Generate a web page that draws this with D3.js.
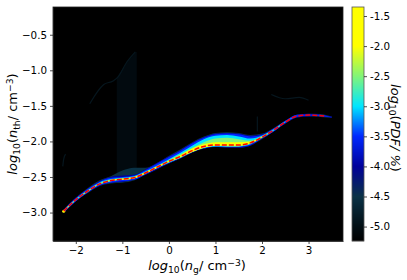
<!DOCTYPE html>
<html>
<head>
<meta charset="utf-8">
<script src="https://cdn.jsdelivr.net/npm/d3@7"></script>
<style>
  body { margin: 0; background: #fff; }
  text { font-family: "DejaVu Sans", sans-serif; fill: #000; }
  .axis text { font-size: 10.3px; }
  .axis path, .axis line { stroke: #222; stroke-width: 0.8; }
  .lab { font-size: 13px; }
</style>
</head>
<body>
<div id="chart"></div>
<script>
// values
var ngBins = [-2.26,-2,-1.75,-1.5,-1.25,-1,-0.75,-0.5,-0.25,0,0.25,0.5,0.75,1,1.25,1.5,1.75,2,2.25,2.5,2.75,3,3.25,3.5]
var ridgeNth = [-2.98,-2.82,-2.70,-2.60,-2.55,-2.53,-2.51,-2.44,-2.36,-2.28,-2.21,-2.13,-2.07,-2.04,-2.04,-2.04,-2.02,-1.94,-1.84,-1.73,-1.645,-1.63,-1.635,-1.66]

var meanNg = [-2.26,-2,-1.75,-1.5,-1.25,-1,-0.75,-0.5,-0.25,0,0.25,0.5,0.75,1,1.25,1.5,1.75,2,2.25,2.5,2.75,3,3.2,3.35]
var meanNth = [-2.98,-2.82,-2.70,-2.60,-2.55,-2.53,-2.51,-2.44,-2.36,-2.28,-2.21,-2.13,-2.07,-2.05,-2.05,-2.05,-2.02,-1.94,-1.84,-1.73,-1.645,-1.63,-1.635,-1.645]

// how far each PDF level reaches above / below the ridge, in 0.01 dex
var levels = [-4.5, -4, -3.5, -3, -2.5, -2]
var reachUp = [
  [2,3,4,5,6,12,14,7,6,8,10,12,14,16,17,16,11,5,3,2,2,2,2,1],
  [2,3,3,4,5,5,4,5,6,7,9,11,13,15,16,15,10,4,2,2,2,2,1,1],
  [2,2,3,3,4,3,3,4,5,6,8,10,12,14,15,14,9,3,2,2,2,1,1,0],
  [1,1,1,2,2,2,2,2,2,3,5,7,10,12,13,11,6,2,1,1,0,0,0,0],
  [1,1,1,1,1,1,1,1,1,2,3,4,6,8,9,7,3,1,0,0,0,0,0,0],
  [1,0,0,0,1,1,1,1,1,1,2,3,3,3,3,3,2,1,0,0,0,0,0,0]
]
var reachDown = [
  [2,2,3,3,4,5,4,3,3,3,3,3,3,4,5,5,4,3,2,2,2,2,2,1],
  [2,2,2,3,3,4,3,3,3,3,3,3,3,4,5,5,4,2,2,2,2,2,1,1],
  [2,2,2,2,3,3,3,2,2,2,2,2,3,3,4,4,3,2,2,1,1,1,1,0],
  [1,1,1,1,1,1,1,1,1,2,2,2,2,3,3,3,2,1,1,0,0,0,0,0],
  [1,0,1,1,1,1,1,1,1,1,2,2,2,2,3,3,1,1,0,0,0,0,0,0],
  [1,0,0,0,0,1,1,1,1,1,1,2,2,2,2,2,1,0,0,0,0,0,0,0]
]

// faint plume above the ridge around ng = -1
var plumeNg = [-1.12,-1.0,-0.9,-0.72,-0.69]
var plumeTop = [-1.10,-0.98,-0.88,-0.75,-0.74]
var plumeBottom = [-2.45,-2.45,-2.45,-2.42,-2.42]

// thin wisps
var wispA = { ng: [-1.7,-1.4,-1.2,-1.1,-0.9,-0.72], nth: [-1.47,-1.2,-1.15,-1.1,-0.88,-0.74] }
var wispB = { ng: [2.2,2.5,2.8,3.0], nth: [-1.34,-1.4,-1.38,-1.42] }
var wispC = { ng: [-2.28,-2.26,-2.22], nth: [-2.35,-2.25,-2.18] }
var wispD = { ng: [1.9,1.9,1.9], nth: [-1.86,-1.75,-1.65] }

var xTicks = [-2,-1,0,1,2,3]
var yTicks = [-3,-2.5,-2,-1.5,-1,-0.5]
var cbTicks = [-5,-4.5,-4,-3.5,-3,-2.5,-2,-1.5]

var cmapStops = [-5.24,-5,-4.5,-4,-3.5,-3,-2.5,-2,-1.35]
var cmapColors = ["#000000","#020e14","#0a3246","#00009b","#0028ff","#00e6ff","#82f578","#ffff00","#ffff00"]

var margin = { top: 7, right: 64, bottom: 39, left: 53 }
var width = 407 - margin.left - margin.right,
  height = 280 - margin.top - margin.bottom

var svg = d3.select("#chart").append("svg")
  .attr("width", 407)
  .attr("height", 280)
  .style("display", "block")

var g = svg.append("g")
  .attr("transform", "translate(" + margin.left + "," + margin.top + ")")

var xPositionScale = d3.scaleLinear().domain([-2.49, 3.74]).range([0, width])
var yPositionScale = d3.scaleLinear().domain([-3.4, -0.11]).range([height, 0])
var colorScale = d3.scaleLinear().domain(cmapStops).range(cmapColors)

g.append("clipPath").attr("id", "plot")
  .append("rect").attr("width", width).attr("height", height)

g.append("rect")
  .attr("width", width)
  .attr("height", height)
  .attr("fill", "#000")

var plot = g.append("g").attr("clip-path", "url(#plot)")

// plume
var plumeArea = d3.area()
  .x(function(d) { return xPositionScale(d[0]) })
  .y0(function(d) { return yPositionScale(d[2]) })
  .y1(function(d) { return yPositionScale(d[1]) })

plot.append("path")
  .attr("d", plumeArea(plumeNg.map(function(d, i) { return [d, plumeTop[i], plumeBottom[i]] })))
  .attr("fill", "#020a0f")

var wispLine = d3.line()
  .x(function(d) { return xPositionScale(d[0]) })
  .y(function(d) { return yPositionScale(d[1]) })
  .curve(d3.curveMonotoneX)

;[wispA, wispB, wispC, wispD].forEach(function(w) {
  plot.append("path")
    .attr("d", wispLine(w.ng.map(function(d, i) { return [d, w.nth[i]] })))
    .attr("fill", "none")
    .attr("stroke", "#06161e")
    .attr("stroke-width", 1.2)
})

// PDF ridge, one filled band per level
var band = d3.area()
  .x(function(d) { return xPositionScale(d.ng) })
  .y0(function(d) { return yPositionScale(d.lo) })
  .y1(function(d) { return yPositionScale(d.hi) })
  .curve(d3.curveMonotoneX)

levels.forEach(function(level, k) {
  var rows = ngBins.map(function(ng, i) {
    return { ng: ng, hi: ridgeNth[i] + reachUp[k][i] / 100, lo: ridgeNth[i] - reachDown[k][i] / 100 }
  })
  plot.append("path")
    .attr("d", band(rows))
    .attr("fill", colorScale(level))
})

// starting point
plot.append("circle")
  .attr("cx", xPositionScale(ngBins[0]))
  .attr("cy", yPositionScale(ridgeNth[0]))
  .attr("r", 1.5)
  .attr("fill", "#ffff00")

// mean line
var meanLine = d3.line()
  .x(function(d) { return xPositionScale(d[0]) })
  .y(function(d) { return yPositionScale(d[1]) })
  .curve(d3.curveMonotoneX)

plot.append("path")
  .attr("d", meanLine(meanNg.map(function(d, i) { return [d, meanNth[i]] })))
  .attr("fill", "none")
  .attr("stroke", "#ff0000")
  .attr("stroke-width", 1.5)
  .attr("stroke-dasharray", "5,2")

// axes
var xAxis = d3.axisBottom(xPositionScale).tickValues(xTicks).tickSize(3).tickSizeOuter(0).tickPadding(3)
  .tickFormat(function(d) { return d3.format("d")(d).replace("-", "\u2212") })
g.append("g")
  .attr("class", "axis x-axis")
  .attr("transform", "translate(0," + height + ")")
  .call(xAxis)

var yAxis = d3.axisLeft(yPositionScale).tickValues(yTicks).tickSize(3).tickSizeOuter(0).tickPadding(3)
  .tickFormat(function(d) { return d3.format(".1f")(d).replace("-", "\u2212") })
g.append("g")
  .attr("class", "axis y-axis")
  .call(yAxis)

g.append("rect")
  .attr("width", width)
  .attr("height", height)
  .attr("fill", "none")
  .attr("stroke", "#222")
  .attr("stroke-width", 0.8)

// colorbar
var cbX = 352, cbW = 12
var cbScale = d3.scaleLinear().domain([-5.24, -1.35]).range([height, 0])
var cb = svg.append("g")
  .attr("transform", "translate(" + cbX + "," + margin.top + ")")

cb.selectAll("rect")
  .data(d3.range(0, height))
  .enter().append("rect")
  .attr("x", 0)
  .attr("y", function(d) { return d })
  .attr("width", cbW)
  .attr("height", 1.2)
  .attr("fill", function(d) { return colorScale(cbScale.invert(d + 0.5)) })

cb.append("rect")
  .attr("width", cbW)
  .attr("height", height)
  .attr("fill", "none")
  .attr("stroke", "#555")
  .attr("stroke-width", 0.8)

var cbAxis = d3.axisRight(cbScale).tickValues(cbTicks).tickSize(3).tickSizeOuter(0).tickPadding(3)
  .tickFormat(function(d) { return d3.format(".1f")(d).replace("\u2212", "-") })
cb.append("g")
  .attr("class", "axis cb-axis")
  .attr("transform", "translate(" + cbW + ",0)")
  .call(cbAxis)
  .select(".domain").remove()

// labels, written out with sub and superscripts
function addLabel(sel, parts) {
  parts.forEach(function(p) {
    var t = sel.append("tspan").text(p.t)
    if (p.i) t.attr("font-style", "italic")
    if (p.s) t.attr("font-size", "9.2px")
    if (p.dy) t.attr("dy", p.dy)
  })
}

addLabel(svg.append("text").attr("class", "lab")
  .attr("x", 197).attr("y", 270).attr("text-anchor", "middle"), [
  { t: "log", i: 1 }, { t: "10", s: 1, dy: 2.5 }, { t: "(", dy: -2.5 }, { t: "n", i: 1 },
  { t: "g", s: 1, dy: 2.5 }, { t: "/ cm", dy: -2.5 }, { t: "\u22123", s: 1, dy: -4.5 }, { t: ")", dy: 4.5 }
])

addLabel(svg.append("text").attr("class", "lab")
  .attr("transform", "translate(17,124) rotate(-90)").attr("text-anchor", "middle"), [
  { t: "log", i: 1 }, { t: "10", s: 1, dy: 2.5 }, { t: "(", dy: -2.5 }, { t: "n", i: 1 },
  { t: "th", s: 1, dy: 2.5 }, { t: "/ cm", dy: -2.5 }, { t: "\u22123", s: 1, dy: -4.5 }, { t: ")", dy: 4.5 }
])

addLabel(svg.append("text").attr("class", "lab")
  .attr("transform", "translate(391,128) rotate(90)").attr("text-anchor", "middle"), [
  { t: "log", i: 1 }, { t: "10", s: 1, dy: 2.5 }, { t: "(", dy: -2.5 }, { t: "PDF", i: 1 },
  { t: "/ %", i: 1 }, { t: ")" }
])
</script>
</body>
</html>
